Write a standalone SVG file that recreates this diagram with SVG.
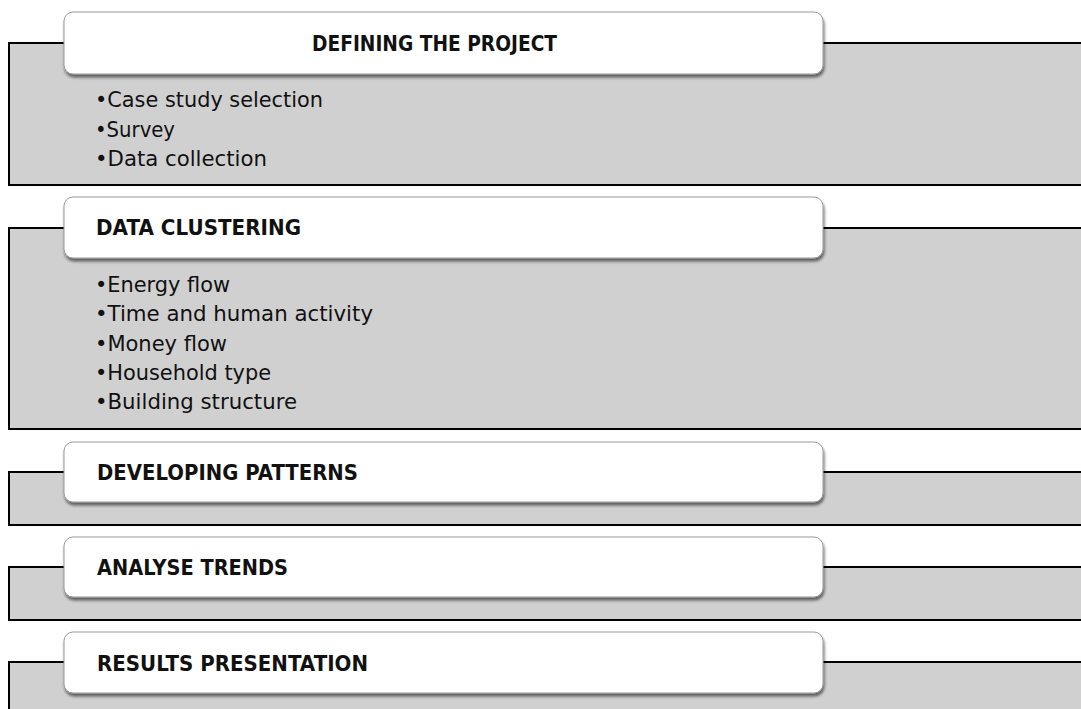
<svg xmlns="http://www.w3.org/2000/svg" width="1081" height="709" viewBox="0 0 1081 709">
  <defs>
    <filter id="shadow" x="-5%" y="-30%" width="110%" height="170%">
      <feGaussianBlur in="SourceAlpha" stdDeviation="1.6"/>
      <feOffset dx="1" dy="3" result="blur"/>
      <feComponentTransfer><feFuncA type="linear" slope="0.55"/></feComponentTransfer>
      <feMerge><feMergeNode/><feMergeNode in="SourceGraphic"/></feMerge>
    </filter>
  </defs>
  <style>
    .panel { fill: #d0d0d0; stroke: #000; stroke-width: 2; }
    .head { fill: #fff; stroke: #9a9a9a; stroke-width: 1; filter: url(#shadow); }
    .title { font-family: "DejaVu Sans", "Liberation Sans", sans-serif; font-weight: bold; font-size: 21px; fill: #111; }
    .item { font-family: "DejaVu Sans", "Liberation Sans", sans-serif; font-size: 21px; fill: #111; }
  </style>
  <rect width="1081" height="709" fill="#fff"/>

  <!-- Stage 1 -->
  <g id="defining-the-project">
    <rect class="panel" x="9" y="43" width="1090" height="142"/>
    <rect class="head" x="64" y="12" width="759" height="62" rx="9"/>
    <text class="title" x="312" y="51" textLength="245" lengthAdjust="spacingAndGlyphs">DEFINING THE PROJECT</text>
    <text class="item" x="95" y="107" textLength="228" lengthAdjust="spacingAndGlyphs">•Case study selection</text>
    <text class="item" x="95" y="136.5" textLength="80" lengthAdjust="spacingAndGlyphs">•Survey</text>
    <text class="item" x="95" y="166" textLength="172" lengthAdjust="spacingAndGlyphs">•Data collection</text>
  </g>

  <!-- Stage 2 -->
  <g id="data-clustering">
    <rect class="panel" x="9" y="228" width="1090" height="201"/>
    <rect class="head" x="64" y="197" width="759" height="61" rx="9"/>
    <text class="title" x="96" y="235" textLength="205" lengthAdjust="spacingAndGlyphs">DATA CLUSTERING</text>
    <text class="item" x="95" y="292" textLength="135" lengthAdjust="spacingAndGlyphs">•Energy flow</text>
    <text class="item" x="95" y="321" textLength="278" lengthAdjust="spacingAndGlyphs">•Time and human activity</text>
    <text class="item" x="95" y="350.5" textLength="132" lengthAdjust="spacingAndGlyphs">•Money flow</text>
    <text class="item" x="95" y="379.5" textLength="176" lengthAdjust="spacingAndGlyphs">•Household type</text>
    <text class="item" x="95" y="408.5" textLength="202" lengthAdjust="spacingAndGlyphs">•Building structure</text>
  </g>

  <!-- Stage 3 -->
  <g id="developing-patterns">
    <rect class="panel" x="9" y="472" width="1090" height="53"/>
    <rect class="head" x="64" y="442" width="759" height="60" rx="9"/>
    <text class="title" x="97" y="480" textLength="261" lengthAdjust="spacingAndGlyphs">DEVELOPING PATTERNS</text>
  </g>

  <!-- Stage 4 -->
  <g id="analyse-trends">
    <rect class="panel" x="9" y="567" width="1090" height="53"/>
    <rect class="head" x="64" y="537" width="759" height="60" rx="9"/>
    <text class="title" x="97" y="575" textLength="191" lengthAdjust="spacingAndGlyphs">ANALYSE TRENDS</text>
  </g>

  <!-- Stage 5 -->
  <g id="results-presentation">
    <rect class="panel" x="9" y="662" width="1090" height="70"/>
    <rect class="head" x="64" y="632" width="759" height="61" rx="9"/>
    <text class="title" x="97" y="670.5" textLength="271" lengthAdjust="spacingAndGlyphs">RESULTS PRESENTATION</text>
  </g>
</svg>
